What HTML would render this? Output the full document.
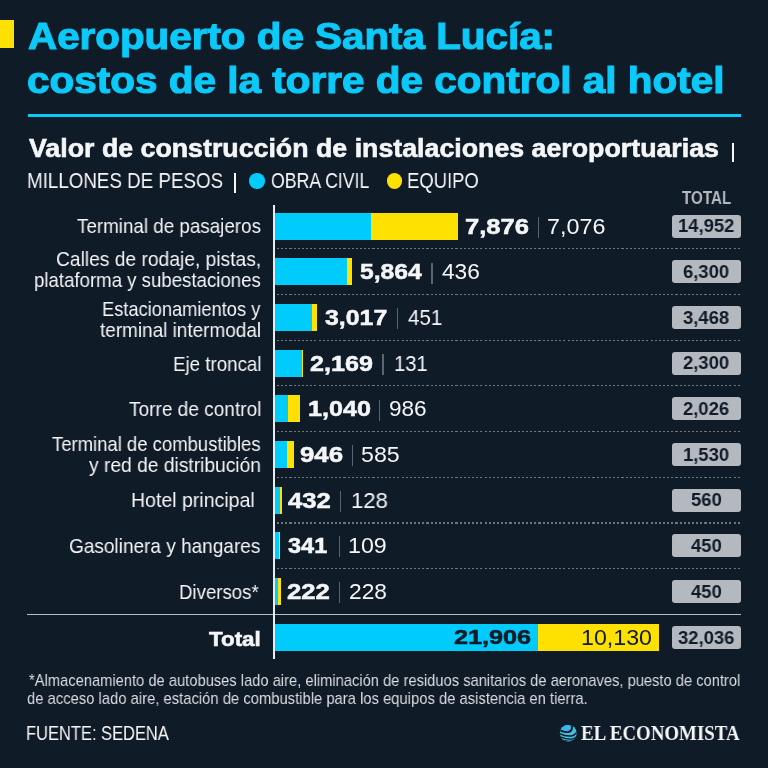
<!DOCTYPE html>
<html><head><meta charset="utf-8"><style>
html,body{margin:0;padding:0;}
body{width:768px;height:768px;overflow:hidden;background:#101b28;position:relative;}
.t{position:absolute;white-space:pre;transform-origin:0 0;will-change:transform;}
</style></head><body>
<div style="position:absolute;left:0.00px;top:20.20px;width:14.00px;height:27.90px;background:#ffe100;"></div>
<div style="position:absolute;left:28.00px;top:113.80px;width:713.00px;height:3.00px;background:#0bc9f8;"></div>
<div style="position:absolute;left:732.30px;top:143.00px;width:1.60px;height:19.00px;background:#f4f6f8;"></div>
<div style="position:absolute;left:234.20px;top:172.50px;width:1.60px;height:20.00px;background:#f4f6f8;"></div>
<div style="position:absolute;left:249.3px;top:173.3px;width:15.5px;height:15.5px;border-radius:50%;background:#00cbfd"></div>
<div style="position:absolute;left:386.8px;top:173.3px;width:15.5px;height:15.5px;border-radius:50%;background:#ffe100"></div>
<div style="position:absolute;left:275.00px;top:212.60px;width:96.32px;height:27.00px;background:#00cbfd;"></div>
<div style="position:absolute;left:371.32px;top:212.60px;width:86.54px;height:27.00px;background:#ffe100;"></div>
<div style="position:absolute;left:537.60px;top:216.90px;width:1.40px;height:21.00px;background:#5b6470;"></div>
<div style="position:absolute;left:672.00px;top:214.60px;width:68.60px;height:23.00px;background:#b4b9bf;border-radius:3px;"></div>
<div style="position:absolute;left:277px;top:248.20px;width:465px;height:1.2px;background:repeating-linear-gradient(90deg,#6e7680 0,#6e7680 2.1px,transparent 2.1px,transparent 4.15px);"></div>
<div style="position:absolute;left:275.00px;top:258.25px;width:71.72px;height:27.00px;background:#00cbfd;"></div>
<div style="position:absolute;left:346.72px;top:258.25px;width:5.33px;height:27.00px;background:#ffe100;"></div>
<div style="position:absolute;left:431.20px;top:262.55px;width:1.40px;height:21.00px;background:#5b6470;"></div>
<div style="position:absolute;left:672.00px;top:260.25px;width:68.60px;height:23.00px;background:#b4b9bf;border-radius:3px;"></div>
<div style="position:absolute;left:277px;top:293.90px;width:465px;height:1.2px;background:repeating-linear-gradient(90deg,#6e7680 0,#6e7680 2.1px,transparent 2.1px,transparent 4.15px);"></div>
<div style="position:absolute;left:275.00px;top:303.90px;width:36.90px;height:27.00px;background:#00cbfd;"></div>
<div style="position:absolute;left:311.90px;top:303.90px;width:5.52px;height:27.00px;background:#ffe100;"></div>
<div style="position:absolute;left:396.50px;top:308.20px;width:1.40px;height:21.00px;background:#5b6470;"></div>
<div style="position:absolute;left:672.00px;top:305.90px;width:68.60px;height:23.00px;background:#b4b9bf;border-radius:3px;"></div>
<div style="position:absolute;left:277px;top:339.60px;width:465px;height:1.2px;background:repeating-linear-gradient(90deg,#6e7680 0,#6e7680 2.1px,transparent 2.1px,transparent 4.15px);"></div>
<div style="position:absolute;left:275.00px;top:349.55px;width:26.53px;height:27.00px;background:#00cbfd;"></div>
<div style="position:absolute;left:301.53px;top:349.55px;width:1.60px;height:27.00px;background:#ffe100;"></div>
<div style="position:absolute;left:382.30px;top:353.85px;width:1.40px;height:21.00px;background:#5b6470;"></div>
<div style="position:absolute;left:672.00px;top:351.55px;width:68.60px;height:23.00px;background:#b4b9bf;border-radius:3px;"></div>
<div style="position:absolute;left:277px;top:385.30px;width:465px;height:1.2px;background:repeating-linear-gradient(90deg,#6e7680 0,#6e7680 2.1px,transparent 2.1px,transparent 4.15px);"></div>
<div style="position:absolute;left:275.00px;top:395.20px;width:12.72px;height:27.00px;background:#00cbfd;"></div>
<div style="position:absolute;left:287.72px;top:395.20px;width:12.06px;height:27.00px;background:#ffe100;"></div>
<div style="position:absolute;left:378.60px;top:399.50px;width:1.40px;height:21.00px;background:#5b6470;"></div>
<div style="position:absolute;left:672.00px;top:397.20px;width:68.60px;height:23.00px;background:#b4b9bf;border-radius:3px;"></div>
<div style="position:absolute;left:277px;top:431.00px;width:465px;height:1.2px;background:repeating-linear-gradient(90deg,#6e7680 0,#6e7680 2.1px,transparent 2.1px,transparent 4.15px);"></div>
<div style="position:absolute;left:275.00px;top:440.85px;width:11.57px;height:27.00px;background:#00cbfd;"></div>
<div style="position:absolute;left:286.57px;top:440.85px;width:7.15px;height:27.00px;background:#ffe100;"></div>
<div style="position:absolute;left:351.50px;top:445.15px;width:1.40px;height:21.00px;background:#5b6470;"></div>
<div style="position:absolute;left:672.00px;top:442.85px;width:68.60px;height:23.00px;background:#b4b9bf;border-radius:3px;"></div>
<div style="position:absolute;left:277px;top:476.70px;width:465px;height:1.2px;background:repeating-linear-gradient(90deg,#6e7680 0,#6e7680 2.1px,transparent 2.1px,transparent 4.15px);"></div>
<div style="position:absolute;left:275.00px;top:486.50px;width:5.28px;height:27.00px;background:#00cbfd;"></div>
<div style="position:absolute;left:280.28px;top:486.50px;width:1.57px;height:27.00px;background:#ffe100;"></div>
<div style="position:absolute;left:339.50px;top:490.80px;width:1.40px;height:21.00px;background:#5b6470;"></div>
<div style="position:absolute;left:672.00px;top:488.50px;width:68.60px;height:23.00px;background:#b4b9bf;border-radius:3px;"></div>
<div style="position:absolute;left:277px;top:522.40px;width:465px;height:1.2px;background:repeating-linear-gradient(90deg,#6e7680 0,#6e7680 2.1px,transparent 2.1px,transparent 4.15px);"></div>
<div style="position:absolute;left:275.00px;top:532.15px;width:4.17px;height:27.00px;background:#00cbfd;"></div>
<div style="position:absolute;left:279.17px;top:532.15px;width:1.33px;height:27.00px;background:#ffe100;"></div>
<div style="position:absolute;left:338.60px;top:536.45px;width:1.40px;height:21.00px;background:#5b6470;"></div>
<div style="position:absolute;left:672.00px;top:534.15px;width:68.60px;height:23.00px;background:#b4b9bf;border-radius:3px;"></div>
<div style="position:absolute;left:277px;top:568.10px;width:465px;height:1.2px;background:repeating-linear-gradient(90deg,#6e7680 0,#6e7680 2.1px,transparent 2.1px,transparent 4.15px);"></div>
<div style="position:absolute;left:275.00px;top:577.80px;width:2.72px;height:27.00px;background:#00cbfd;"></div>
<div style="position:absolute;left:277.72px;top:577.80px;width:2.79px;height:27.00px;background:#ffe100;"></div>
<div style="position:absolute;left:338.60px;top:582.10px;width:1.40px;height:21.00px;background:#5b6470;"></div>
<div style="position:absolute;left:672.00px;top:579.80px;width:68.60px;height:23.00px;background:#b4b9bf;border-radius:3px;"></div>
<div style="position:absolute;left:275.00px;top:623.70px;width:262.59px;height:27.60px;background:#00cbfd;"></div>
<div style="position:absolute;left:537.59px;top:623.70px;width:121.43px;height:27.60px;background:#ffe100;"></div>
<div style="position:absolute;left:672.00px;top:626.00px;width:68.60px;height:23.00px;background:#b4b9bf;border-radius:3px;"></div>
<div style="position:absolute;left:27.00px;top:613.60px;width:714.00px;height:1.80px;background:#b9bec4;"></div>
<div style="position:absolute;left:273.40px;top:205.00px;width:1.70px;height:453.50px;background:#e6eef2;"></div>
<div class="t" style="left:27.69px;top:18.00px;font:bold 37.43px/37.43px 'Liberation Sans';color:#0bc9f8;transform:scaleX(1.0786);-webkit-text-stroke:1.1px #0bc9f8;">Aeropuerto de Santa Lucía:</div>
<div class="t" style="left:27.08px;top:62.20px;font:bold 37.43px/37.43px 'Liberation Sans';color:#0bc9f8;transform:scaleX(1.0821);-webkit-text-stroke:1.1px #0bc9f8;">costos de la torre de control al hotel</div>
<div class="t" style="left:28.67px;top:136.10px;font:bold 25.00px/25.00px 'Liberation Sans';color:#f4f6f8;transform:scaleX(1.0703);-webkit-text-stroke:0.6px #f4f6f8;">Valor de construcción de instalaciones aeroportuarias</div>
<div class="t" style="left:26.60px;top:170.30px;font:normal 22.14px/22.14px 'Liberation Sans';color:#f4f6f8;transform:scaleX(0.8481);">MILLONES DE PESOS</div>
<div class="t" style="left:271.20px;top:170.30px;font:normal 22.14px/22.14px 'Liberation Sans';color:#f4f6f8;transform:scaleX(0.7994);">OBRA CIVIL</div>
<div class="t" style="left:407.02px;top:170.30px;font:normal 22.14px/22.14px 'Liberation Sans';color:#f4f6f8;transform:scaleX(0.8344);">EQUIPO</div>
<div class="t" style="left:681.85px;top:189.00px;font:bold 18.29px/18.29px 'Liberation Sans';color:#b4b9bf;transform:scaleX(0.8328);">TOTAL</div>
<div class="t" style="left:76.52px;top:216.20px;font:normal 20.86px/20.86px 'Liberation Sans';color:#f4f6f8;transform:scaleX(0.9015);">Terminal de pasajeros</div>
<div class="t" style="left:56.34px;top:249.10px;font:normal 20.86px/20.86px 'Liberation Sans';color:#f4f6f8;transform:scaleX(0.9216);">Calles de rodaje, pistas,</div>
<div class="t" style="left:33.68px;top:270.30px;font:normal 20.86px/20.86px 'Liberation Sans';color:#f4f6f8;transform:scaleX(0.8931);">plataforma y subestaciones</div>
<div class="t" style="left:101.54px;top:298.50px;font:normal 20.86px/20.86px 'Liberation Sans';color:#f4f6f8;transform:scaleX(0.8751);">Estacionamientos y</div>
<div class="t" style="left:99.92px;top:319.70px;font:normal 20.86px/20.86px 'Liberation Sans';color:#f4f6f8;transform:scaleX(0.9081);">terminal intermodal</div>
<div class="t" style="left:172.50px;top:353.50px;font:normal 20.86px/20.86px 'Liberation Sans';color:#f4f6f8;transform:scaleX(0.8977);">Eje troncal</div>
<div class="t" style="left:128.62px;top:399.20px;font:normal 20.86px/20.86px 'Liberation Sans';color:#f4f6f8;transform:scaleX(0.9134);">Torre de control</div>
<div class="t" style="left:51.93px;top:434.20px;font:normal 20.86px/20.86px 'Liberation Sans';color:#f4f6f8;transform:scaleX(0.8861);">Terminal de combustibles</div>
<div class="t" style="left:89.00px;top:454.70px;font:normal 20.86px/20.86px 'Liberation Sans';color:#f4f6f8;transform:scaleX(0.9214);">y red de distribución</div>
<div class="t" style="left:131.14px;top:490.00px;font:normal 20.86px/20.86px 'Liberation Sans';color:#f4f6f8;transform:scaleX(0.9358);">Hotel principal</div>
<div class="t" style="left:69.15px;top:535.80px;font:normal 20.86px/20.86px 'Liberation Sans';color:#f4f6f8;transform:scaleX(0.9117);">Gasolinera y hangares</div>
<div class="t" style="left:179.31px;top:582.20px;font:normal 20.86px/20.86px 'Liberation Sans';color:#f4f6f8;transform:scaleX(0.8925);">Diversos*</div>
<div class="t" style="left:208.98px;top:627.60px;font:bold 21.14px/21.14px 'Liberation Sans';color:#f4f6f8;transform:scaleX(1.0573);-webkit-text-stroke:0.6px #f4f6f8;">Total</div>
<div class="t" style="left:29.18px;top:672.60px;font:normal 16.57px/16.57px 'Liberation Sans';color:#d9dde2;transform:scaleX(0.8881);">*Almacenamiento de autobuses lado aire, eliminación de residuos sanitarios de aeronaves, puesto de control</div>
<div class="t" style="left:27.21px;top:690.80px;font:normal 16.57px/16.57px 'Liberation Sans';color:#d9dde2;transform:scaleX(0.8931);">de acceso lado aire, estación de combustible para los equipos de asistencia en tierra.</div>
<div class="t" style="left:26.48px;top:723.70px;font:normal 19.29px/19.29px 'Liberation Sans';color:#f4f6f8;transform:scaleX(0.8546);">FUENTE: SEDENA</div>
<div class="t" style="left:580.52px;top:723.30px;font:bold 21.29px/21.29px 'Liberation Serif';color:#f4f6f8;transform:scaleX(0.8869);">EL ECONOMISTA</div>
<div class="t" style="left:464.63px;top:215.80px;font:bold 22.43px/22.43px 'Liberation Sans';color:#f4f6f8;transform:scaleX(1.1393);-webkit-text-stroke:0.55px #f4f6f8;">7,876</div>
<div class="t" style="left:546.53px;top:215.70px;font:normal 22.57px/22.57px 'Liberation Sans';color:#f4f6f8;transform:scaleX(1.0344);">7,076</div>
<div class="t" style="left:359.81px;top:261.45px;font:bold 22.43px/22.43px 'Liberation Sans';color:#f4f6f8;transform:scaleX(1.1005);-webkit-text-stroke:0.55px #f4f6f8;">5,864</div>
<div class="t" style="left:442.05px;top:261.35px;font:normal 22.57px/22.57px 'Liberation Sans';color:#f4f6f8;transform:scaleX(1.0061);">436</div>
<div class="t" style="left:324.85px;top:307.10px;font:bold 22.43px/22.43px 'Liberation Sans';color:#f4f6f8;transform:scaleX(1.1086);-webkit-text-stroke:0.55px #f4f6f8;">3,017</div>
<div class="t" style="left:407.59px;top:307.00px;font:normal 22.57px/22.57px 'Liberation Sans';color:#f4f6f8;transform:scaleX(0.9125);">451</div>
<div class="t" style="left:310.30px;top:352.75px;font:bold 22.43px/22.43px 'Liberation Sans';color:#f4f6f8;transform:scaleX(1.1200);-webkit-text-stroke:0.55px #f4f6f8;">2,169</div>
<div class="t" style="left:393.88px;top:352.65px;font:normal 22.57px/22.57px 'Liberation Sans';color:#f4f6f8;transform:scaleX(0.8962);">131</div>
<div class="t" style="left:308.24px;top:398.40px;font:bold 22.43px/22.43px 'Liberation Sans';color:#f4f6f8;transform:scaleX(1.1210);-webkit-text-stroke:0.55px #f4f6f8;">1,040</div>
<div class="t" style="left:388.68px;top:398.30px;font:normal 22.57px/22.57px 'Liberation Sans';color:#f4f6f8;transform:scaleX(0.9996);">986</div>
<div class="t" style="left:299.87px;top:444.05px;font:bold 22.43px/22.43px 'Liberation Sans';color:#f4f6f8;transform:scaleX(1.1520);-webkit-text-stroke:0.55px #f4f6f8;">946</div>
<div class="t" style="left:361.47px;top:443.95px;font:normal 22.57px/22.57px 'Liberation Sans';color:#f4f6f8;transform:scaleX(1.0271);">585</div>
<div class="t" style="left:288.27px;top:489.70px;font:bold 22.43px/22.43px 'Liberation Sans';color:#f4f6f8;transform:scaleX(1.1441);-webkit-text-stroke:0.55px #f4f6f8;">432</div>
<div class="t" style="left:351.14px;top:489.60px;font:normal 22.57px/22.57px 'Liberation Sans';color:#f4f6f8;transform:scaleX(0.9818);">128</div>
<div class="t" style="left:287.58px;top:535.35px;font:bold 22.43px/22.43px 'Liberation Sans';color:#f4f6f8;transform:scaleX(1.0499);-webkit-text-stroke:0.55px #f4f6f8;">341</div>
<div class="t" style="left:348.06px;top:535.25px;font:normal 22.57px/22.57px 'Liberation Sans';color:#f4f6f8;transform:scaleX(1.0279);">109</div>
<div class="t" style="left:287.28px;top:581.00px;font:bold 22.43px/22.43px 'Liberation Sans';color:#f4f6f8;transform:scaleX(1.1464);-webkit-text-stroke:0.55px #f4f6f8;">222</div>
<div class="t" style="left:348.66px;top:580.90px;font:normal 22.57px/22.57px 'Liberation Sans';color:#f4f6f8;transform:scaleX(1.0084);">228</div>
<div class="t" style="left:454.04px;top:626.40px;font:bold 21.00px/21.00px 'Liberation Sans';color:#101b28;transform:scaleX(1.1998);-webkit-text-stroke:0.55px #101b28;">21,906</div>
<div class="t" style="left:581.26px;top:626.70px;font:normal 21.71px/21.71px 'Liberation Sans';color:#101b28;transform:scaleX(1.0687);">10,130</div>
<div class="t" style="left:677.80px;top:216.40px;font:bold 19.00px/19.00px 'Liberation Sans';color:#101b28;transform:scaleX(0.9700);">14,952</div>
<div class="t" style="left:683.15px;top:262.05px;font:bold 19.00px/19.00px 'Liberation Sans';color:#101b28;transform:scaleX(0.9700);">6,300</div>
<div class="t" style="left:683.20px;top:307.70px;font:bold 19.00px/19.00px 'Liberation Sans';color:#101b28;transform:scaleX(0.9700);">3,468</div>
<div class="t" style="left:683.20px;top:353.35px;font:bold 19.00px/19.00px 'Liberation Sans';color:#101b28;transform:scaleX(0.9700);">2,300</div>
<div class="t" style="left:683.20px;top:399.00px;font:bold 19.00px/19.00px 'Liberation Sans';color:#101b28;transform:scaleX(0.9700);">2,026</div>
<div class="t" style="left:682.92px;top:444.65px;font:bold 19.00px/19.00px 'Liberation Sans';color:#101b28;transform:scaleX(0.9700);">1,530</div>
<div class="t" style="left:690.88px;top:490.30px;font:bold 19.00px/19.00px 'Liberation Sans';color:#101b28;transform:scaleX(0.9700);">560</div>
<div class="t" style="left:691.02px;top:535.95px;font:bold 19.00px/19.00px 'Liberation Sans';color:#101b28;transform:scaleX(0.9700);">450</div>
<div class="t" style="left:691.02px;top:581.60px;font:bold 19.00px/19.00px 'Liberation Sans';color:#101b28;transform:scaleX(0.9700);">450</div>
<div class="t" style="left:678.16px;top:627.80px;font:bold 19.00px/19.00px 'Liberation Sans';color:#101b28;transform:scaleX(0.9700);">32,036</div>
<svg style="position:absolute;left:556px;top:721px" width="24" height="24" viewBox="0 0 24 24"><defs><clipPath id="gc"><circle cx="12.3" cy="12.3" r="8.4"/></clipPath></defs><circle cx="12.3" cy="12.3" r="8.4" fill="#46bddc"/><g clip-path="url(#gc)"><ellipse cx="9.3" cy="7.4" rx="5" ry="3.6" fill="#3ab4ee"/><g fill="none" stroke="#101b28"><path stroke-width="1.9" d="M3.4 9.2 Q 8 11.6 12.4 11 Q 16.2 10.2 15.9 6 Q 15.7 4 14.6 2.8"/><path stroke-width="1.5" d="M3.6 12.6 Q 9 15.4 15.2 15 Q 19 14.6 21.2 10.4"/><path stroke-width="1.3" d="M4.4 15.8 Q 10.5 18.6 16.8 18 Q 19.8 17.4 21.2 14.4"/><path stroke-width="1.1" d="M6 19 Q 12 21 18.2 19.6"/></g></g></svg>
</body></html>
